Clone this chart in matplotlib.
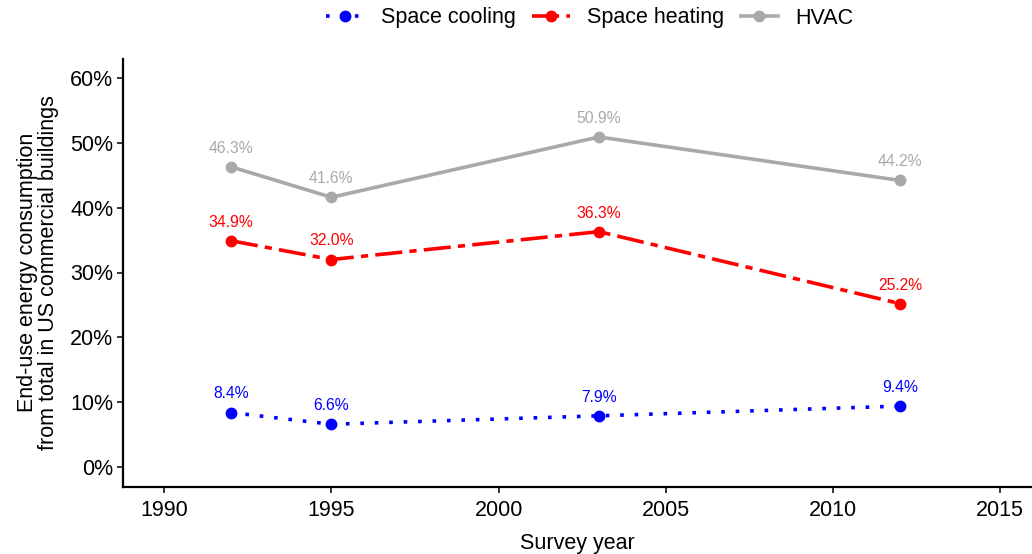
import matplotlib
matplotlib.use("Agg")
import matplotlib.pyplot as plt
from matplotlib.ticker import FuncFormatter

plt.rcParams['font.family'] = ['Liberation Sans', 'DejaVu Sans']

years = [1992, 1995, 2003, 2012]
cooling = [8.4, 6.6, 7.9, 9.4]
heating = [34.9, 32.0, 36.3, 25.2]
hvac = [46.3, 41.6, 50.9, 44.2]
series_names = ["Space cooling", "Space heating", "HVAC"]
x_ticks = [1990, 1995, 2000, 2005, 2010, 2015]
y_ticks = [0, 10, 20, 30, 40, 50, 60]

fig = plt.figure(figsize=(10.32, 5.54), dpi=100)
ax = fig.add_axes([123/1032, 1 - 486.5/554, 1 - 123/1032, (486.5 - 58.5)/554])

styles = [
    (cooling, "#0000FF", (0, (1, 3))),
    (heating, "#FF0000", (0, (7.5, 2, 2, 2))),
    (hvac, "#A9A9A9", "-"),
]
for (vals, color, ls), name in zip(styles, series_names):
    ax.plot(years, vals, color=color, linestyle=ls, linewidth=2.6,
            marker="o", markersize=7.5, label=name, dash_capstyle="butt")
    for x, y in zip(years, vals):
        ax.annotate(f"{y:.1f}%", (x, y), xytext=(0, 8), textcoords="offset points",
                    ha="center", va="bottom", color=color, fontsize=11.3)

ax.set_xlim(1988.77, 2015.95)
ax.set_ylim(-3, 63)
ax.set_xticks(x_ticks)
ax.set_yticks(y_ticks)
ax.yaxis.set_major_formatter(FuncFormatter(lambda v, p: f"{v:.0f}%"))
for s in ["top", "right"]:
    ax.spines[s].set_visible(False)
for s in ["left", "bottom"]:
    ax.spines[s].set_linewidth(1.6)
ax.tick_params(axis="both", length=4, width=1.1, labelsize=15.5, colors="#000000", pad=3)
ax.tick_params(axis="x", pad=6)
ax.set_xlabel("Survey year", fontsize=15.5, labelpad=8)
ax.set_ylabel("End-use energy consumption\nfrom total in US commercial buildings",
              fontsize=15.5, labelpad=8, linespacing=1.0)

leg = fig.legend(loc="center", bbox_to_anchor=(590/1032, 1 - 18/554), ncol=3,
                 frameon=False, fontsize=15.5, handlelength=1.75, columnspacing=0.75,
                 handletextpad=0.8)

fig.savefig("out.png", dpi=100)
